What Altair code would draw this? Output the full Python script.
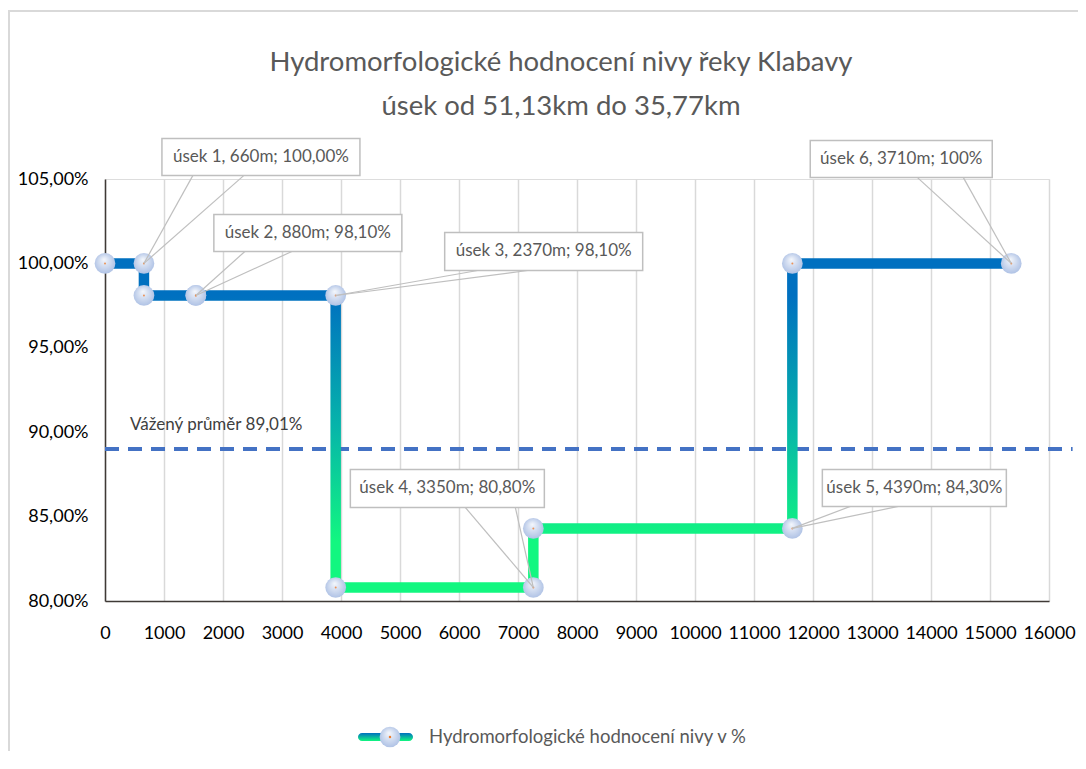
import altair as alt
import pandas as pd

# ---------------- data ----------------
seg_names = ["úsek 1", "úsek 2", "úsek 3", "úsek 4", "úsek 5", "úsek 6"]
seg_len = [660, 880, 2370, 3350, 4390, 3710]
seg_score = [100.0, 98.1, 98.1, 80.8, 84.3, 100.0]
seg_labels = [
    "úsek 1, 660m; 100,00%",
    "úsek 2, 880m; 98,10%",
    "úsek 3, 2370m; 98,10%",
    "úsek 4, 3350m; 80,80%",
    "úsek 5, 4390m; 84,30%",
    "úsek 6, 3710m; 100%",
]
avg_value = 89.01
avg_label = "Vážený průměr 89,01%"
avg_x = [0, 16400]
x_ticks = list(range(0, 16001, 1000))
y_ticks = [80, 85, 90, 95, 100, 105]
series_name = "Hydromorfologické hodnocení nivy v %"
title_lines = ["Hydromorfologické hodnocení nivy řeky Klabavy", "úsek od 51,13km do 35,77km"]

# ---------------- layout ----------------
W, H = 944, 422
XMAX, YMIN, YMAX = 16000, 80, 105
KX = XMAX / W
KY = (YMAX - YMIN) / H
FONT = "Lato"
GRAY = "#595959"

# callout box offsets in px relative to anchor point: (x1, x2, y1, y2, wedge_x1, wedge_x2)
callouts = [
    (18, 216, -125, -88, 49, 100),
    (18, 206, -81, -44, 49, 96),
    (109, 307, -63, -25, 142, 192),
    (-183, 11, -118, -80, -68, -18),
    (30, 214, -59, -22, 58, 106),
    (-201, -19, -123, -86, -94, -48),
]

# step points built from segments
pts = []
start = 0
i = 0
for L, s in zip(seg_len, seg_score):
    pts.append({"i": i, "x": start, "y": s}); i += 1
    pts.append({"i": i, "x": start + L, "y": s}); i += 1
    start += L
line_df = pd.DataFrame(pts)

ends = []
start = 0
for L in seg_len:
    start += L
    ends.append(start)

boxes, wedges = [], []
for lab, ax_, ay_, c in zip(seg_labels, ends, seg_score, callouts):
    bx1, bx2, by1, by2, wx1, wx2 = c
    boxes.append({
        "label": lab,
        "x1": ax_ + bx1 * KX, "x2": ax_ + bx2 * KX,
        "y1": ay_ - by1 * KY, "y2": ay_ - by2 * KY,
        "xc": ax_ + (bx1 + bx2) / 2 * KX, "yc": ay_ - (by1 + by2) / 2 * KY,
    })
    for wx in (wx1, wx2):
        wedges.append({"x": ax_, "y": ay_, "x2": ax_ + wx * KX, "y2": ay_ - by2 * KY})
box_df = pd.DataFrame(boxes)
wedge_df = pd.DataFrame(wedges)
avg_df = pd.DataFrame({"x": [avg_x[0]], "x2": [avg_x[1]], "y": [avg_value], "label": [avg_label]})

xs = alt.Scale(domain=[0, XMAX], nice=False, zero=False)
ys = alt.Scale(domain=[YMIN, YMAX], nice=False, zero=False)

line_grad = alt.LinearGradient(
    gradient="linear",
    stops=[
        alt.GradientStop(offset=0, color="#0070c0"),
        alt.GradientStop(offset=0.1, color="#0070c0"),
        alt.GradientStop(offset=0.5, color="#06b4aa"),
        alt.GradientStop(offset=0.86, color="#12f780"),
        alt.GradientStop(offset=1, color="#12f780"),
    ],
    x1=0, x2=0, y1=0, y2=1,
)
marker_grad = alt.RadialGradient(
    gradient="radial",
    stops=[
        alt.GradientStop(offset=0, color="#f4f7fc"),
        alt.GradientStop(offset=1, color="#a6bbe2"),
    ],
    x1=0.45, y1=0.3, r1=0, x2=0.5, y2=0.5, r2=0.6,
)

base_line = alt.Chart(line_df)

main_line = base_line.mark_line(stroke=line_grad, strokeWidth=10.5, strokeJoin="miter", strokeCap="butt").encode(
    x=alt.X("x:Q", scale=xs, axis=alt.Axis(
        values=x_ticks, format="d", grid=True, gridColor="#d9d9d9", gridWidth=1.5,
        ticks=False, domainColor="#3f3a36", domainWidth=1.5, labelFontSize=18,
        labelColor="#000000", labelPadding=23, labelFont=FONT, labelOverlap=False,
        labelFlush=False, labelBound=False, title=None)),
    y=alt.Y("y:Q", scale=ys, axis=alt.Axis(
        values=y_ticks, labelExpr="replace(format(datum.value, '.2f'), '.', ',') + '%'",
        grid=False, ticks=False, domainColor="#3f3a36", domainWidth=1.5, labelFontSize=18,
        labelColor="#000000", labelPadding=17, labelFont=FONT, labelOverlap=False,
        labelFlush=False, title=None)),
    order=alt.Order("i:Q"),
)

markers = base_line.mark_point(shape="circle", size=430, filled=True, fill=marker_grad, opacity=1, strokeWidth=0).encode(
    x=alt.X("x:Q", scale=xs), y=alt.Y("y:Q", scale=ys)
)
marker_dots = base_line.mark_point(shape="circle", size=4, filled=True, color="#ed7d31", opacity=0.8).encode(
    x=alt.X("x:Q", scale=xs), y=alt.Y("y:Q", scale=ys)
)

avg_line = alt.Chart(avg_df).mark_rule(color="#4472c4", strokeWidth=4, strokeDash=[14, 9]).encode(
    x=alt.X("x:Q", scale=xs), x2="x2:Q", y=alt.Y("y:Q", scale=ys)
)
avg_text = alt.Chart(avg_df).mark_text(
    align="left", baseline="middle", dx=25, dy=-24, fontSize=17, color="#404040", font=FONT
).encode(x=alt.X("x:Q", scale=xs), y=alt.Y("y:Q", scale=ys), text="label:N")

wedge_lines = alt.Chart(wedge_df).mark_rule(color="#bfbfbf", strokeWidth=1.2).encode(
    x=alt.X("x:Q", scale=xs), y=alt.Y("y:Q", scale=ys), x2="x2:Q", y2="y2:Q"
)
box_rect = alt.Chart(box_df).mark_rect(fill="white", stroke="#bfbfbf", strokeWidth=1.5).encode(
    x=alt.X("x1:Q", scale=xs), x2="x2:Q", y=alt.Y("y1:Q", scale=ys), y2="y2:Q"
)
box_text = alt.Chart(box_df).mark_text(
    align="center", baseline="middle", fontSize=17, color=GRAY, font=FONT
).encode(x=alt.X("xc:Q", scale=xs), y=alt.Y("yc:Q", scale=ys), text="label:N")

# title (decoration, two centred lines)
title1 = alt.Chart(pd.DataFrame({"t": [title_lines[0]]})).mark_text(
    align="center", baseline="alphabetic", fontSize=27.5, color=GRAY, font=FONT
).encode(x=alt.value(456), y=alt.value(-108), text="t:N")
title2 = alt.Chart(pd.DataFrame({"t": [title_lines[1]]})).mark_text(
    align="center", baseline="alphabetic", fontSize=27.5, color=GRAY, font=FONT
).encode(x=alt.value(456), y=alt.value(-64), text="t:N")

# legend (decoration)
leg_grad = alt.LinearGradient(
    gradient="linear",
    stops=[alt.GradientStop(offset=0, color="#0070c0"), alt.GradientStop(offset=1, color="#12f780")],
    x1=0, x2=0, y1=0, y2=1,
)
leg_df = pd.DataFrame({"label": [series_name]})
leg_bar = alt.Chart(leg_df).mark_rect(fill=leg_grad, cornerRadius=4).encode(
    x=alt.value(253), x2=alt.value(308), y=alt.value(554), y2=alt.value(562)
)
leg_marker = alt.Chart(leg_df).mark_point(shape="circle", size=430, filled=True, fill=marker_grad, opacity=1).encode(
    x=alt.value(285), y=alt.value(558)
)
leg_dot = alt.Chart(leg_df).mark_point(shape="circle", size=6, filled=True, color="#ed7d31", opacity=1).encode(
    x=alt.value(285), y=alt.value(558)
)
leg_text = alt.Chart(leg_df).mark_text(align="left", baseline="middle", fontSize=18.5, color=GRAY, font=FONT).encode(
    x=alt.value(324), y=alt.value(558), text="label:N"
)

# outer chart border (decoration)
frame = alt.Chart(leg_df).mark_rect(fill=None, stroke="#d9d9d9", strokeWidth=2).encode(
    x=alt.value(-96), x2=alt.value(990), y=alt.value(-168), y2=alt.value(600)
)

chart = alt.layer(
    frame, avg_line, main_line, markers, marker_dots, avg_text, wedge_lines, box_rect, box_text,
    title1, title2, leg_bar, leg_marker, leg_dot, leg_text,
).properties(
    width=W, height=H,
    padding={"left": 97, "top": 171, "right": 29, "bottom": 150},
    autosize=alt.AutoSizeParams(type="none"),
).configure_view(
    stroke="#ed7d31", strokeWidth=1.5
).configure(font=FONT)

chart.save("out.html", embed_options={"renderer": "svg", "actions": False})
